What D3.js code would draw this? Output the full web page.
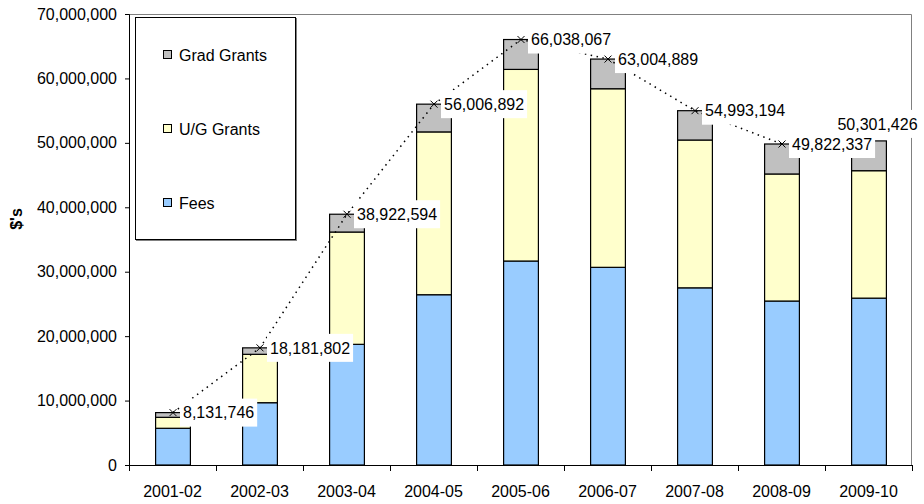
<!DOCTYPE html>
<html>
<head>
<meta charset="utf-8">
<script src="https://cdn.jsdelivr.net/npm/d3@7"></script>
<style>
  html, body { margin: 0; padding: 0; background: #fff; }
  svg { display: block; font-family: "Liberation Sans", Arial, sans-serif; }
</style>
</head>
<body>
<svg id="chart" width="924" height="504"></svg>
<script>
// Funding by academic year, stacked: fees, undergraduate grants, graduate grants
const years = ["2001-02", "2002-03", "2003-04", "2004-05", "2005-06", "2006-07", "2007-08", "2008-09", "2009-10"];
const fees      = [5700000, 9670000, 18730000, 26430000, 31660000, 30680000, 27500000, 25450000, 25900000];
const ugGrants  = [1700000, 7510000, 17430000, 25270000, 29740000, 27720000, 22940000, 19720000, 19780000];
const gradGrants = [731746, 1001802, 2762594, 4306892, 4638067, 4604889, 4553194, 4652337, 4621426];
// Yearly totals; the dotted trend line covers 2001-02 to 2008-09
const totals = [8131746, 18181802, 38922594, 56006892, 66038067, 63004889, 54993194, 49822337, 50301426];
const trendYears = ["2001-02", "2002-03", "2003-04", "2004-05", "2005-06", "2006-07", "2007-08", "2008-09"];
const yTicks = [0, 10000000, 20000000, 30000000, 40000000, 50000000, 60000000, 70000000];

const seriesNames = ["Fees", "U/G Grants", "Grad Grants"];
const seriesColors = ["#99ccff", "#ffffcc", "#c0c0c0"];

const svg = d3.select("#chart");
const plotLeft = 129, plotRight = 912, plotTop = 14, plotBottom = 465;

const x = d3.scaleBand().domain(years).range([plotLeft, plotRight]).paddingInner(0.6).paddingOuter(0.3);
const y = d3.scaleLinear().domain([0, 70000000]).range([plotBottom, plotTop]);

const rows = years.map((yr, i) => ({ year: yr, "Fees": fees[i], "U/G Grants": ugGrants[i], "Grad Grants": gradGrants[i] }));
const stacked = d3.stack().keys(seriesNames)(rows);

// plot frame (top and right edges)
svg.append("path")
  .attr("d", `M${plotLeft},${plotTop + 0.5}H${plotRight - 0.5}V${plotBottom}`)
  .attr("fill", "none").attr("stroke", "#808080").attr("stroke-width", 1);

// stacked bars
stacked.forEach((layer, k) => {
  svg.append("g").selectAll("rect").data(layer).join("rect")
    .attr("x", d => x(d.data.year) + 0.5)
    .attr("y", d => y(d[1]))
    .attr("width", x.bandwidth())
    .attr("height", d => y(d[0]) - y(d[1]))
    .attr("fill", seriesColors[k])
    .attr("stroke", "#000").attr("stroke-width", 1.2);
});

// y axis
const yAxis = svg.append("g").attr("transform", `translate(${plotLeft},0)`)
  .call(d3.axisLeft(y).tickValues(yTicks).tickFormat(d3.format(",")).tickSize(4).tickPadding(8));
yAxis.select(".domain").attr("stroke", "#000");
yAxis.selectAll("text").attr("font-size", 16).attr("fill", "#000")
  .attr("font-family", "Liberation Sans, Arial, sans-serif");

// x axis with ticks on category boundaries
const xAxis = svg.append("g").attr("transform", `translate(0,${plotBottom})`)
  .call(d3.axisBottom(x).tickSize(0).tickPadding(21));
xAxis.select(".domain").attr("stroke", "#000").attr("d", `M${plotLeft},0.5H${plotRight}`);
xAxis.selectAll("text").attr("font-size", 16).attr("fill", "#000")
  .attr("font-family", "Liberation Sans, Arial, sans-serif");
const boundaries = d3.range(years.length + 1).map(i => x.range()[0] + i * x.step());
xAxis.selectAll("line.bound").data(boundaries).join("line")
  .attr("class", "bound")
  .attr("x1", d => Math.round(d) + 0.5).attr("x2", d => Math.round(d) + 0.5)
  .attr("y1", 0).attr("y2", 6).attr("stroke", "#000");

// y axis title
svg.append("text")
  .attr("transform", "translate(22,219) rotate(-90)")
  .attr("text-anchor", "middle")
  .attr("font-size", 16).attr("font-weight", "bold")
  .text("$'s");

// dotted total line with x markers
const cx = yr => x(yr) + x.bandwidth() / 2 + 0.5;
const trend = trendYears.map((yr, i) => ({ year: yr, value: totals[i] }));
svg.append("path")
  .datum(trend)
  .attr("fill", "none").attr("stroke", "#000").attr("stroke-width", 1.5)
  .attr("stroke-dasharray", "1.5,4.5")
  .attr("d", d3.line().x(d => cx(d.year)).y(d => y(d.value)));
svg.append("g").selectAll("path").data(trend).join("path")
  .attr("d", d => {
    const px = cx(d.year), py = y(d.value), s = 3.5;
    return `M${px - s},${py - s}L${px + s},${py + s}M${px - s},${py + s}L${px + s},${py - s}`;
  })
  .attr("stroke", "#000").attr("stroke-width", 1);

// value labels on white boxes
const fmt = d3.format(",");
function label(tx, cyMid, text, anchor) {
  const g = svg.append("g");
  const rect = g.append("rect").attr("fill", "#fff");
  const t = g.append("text").attr("font-size", 16).attr("fill", "#000")
    .attr("text-anchor", anchor)
    .attr("x", tx).attr("y", cyMid + 5.8).text(text);
  const w = t.node().getComputedTextLength();
  const x0 = anchor === "middle" ? tx - w / 2 : tx;
  rect.attr("x", x0 - 3).attr("y", cyMid - 14).attr("width", w + 6).attr("height", 28);
}
trend.forEach(d => label(cx(d.year) + 10, y(d.value), fmt(d.value), "start"));
const lastYear = years[years.length - 1];
label(cx(lastYear) + 8.5, y(totals[totals.length - 1]) - 17, fmt(totals[totals.length - 1]), "middle");

// legend
const lg = svg.append("g");
lg.append("rect").attr("x", 136.5).attr("y", 18.5).attr("width", 160).attr("height", 222)
  .attr("fill", "none").attr("stroke", "#808080").attr("stroke-width", 1);
lg.append("rect").attr("x", 135.5).attr("y", 17.5).attr("width", 160).attr("height", 222)
  .attr("fill", "#fff").attr("stroke", "#000").attr("stroke-width", 1);
const legendItems = [
  { name: "Grad Grants", color: seriesColors[2], cy: 55 },
  { name: "U/G Grants", color: seriesColors[1], cy: 129 },
  { name: "Fees", color: seriesColors[0], cy: 203 }
];
legendItems.forEach(it => {
  lg.append("rect").attr("x", 163.5).attr("y", it.cy - 4.5).attr("width", 8).attr("height", 8)
    .attr("fill", it.color).attr("stroke", "#000").attr("stroke-width", 1);
  lg.append("text").attr("x", 179).attr("y", it.cy + 5.8).attr("font-size", 16).text(it.name);
});
</script>
</body>
</html>
